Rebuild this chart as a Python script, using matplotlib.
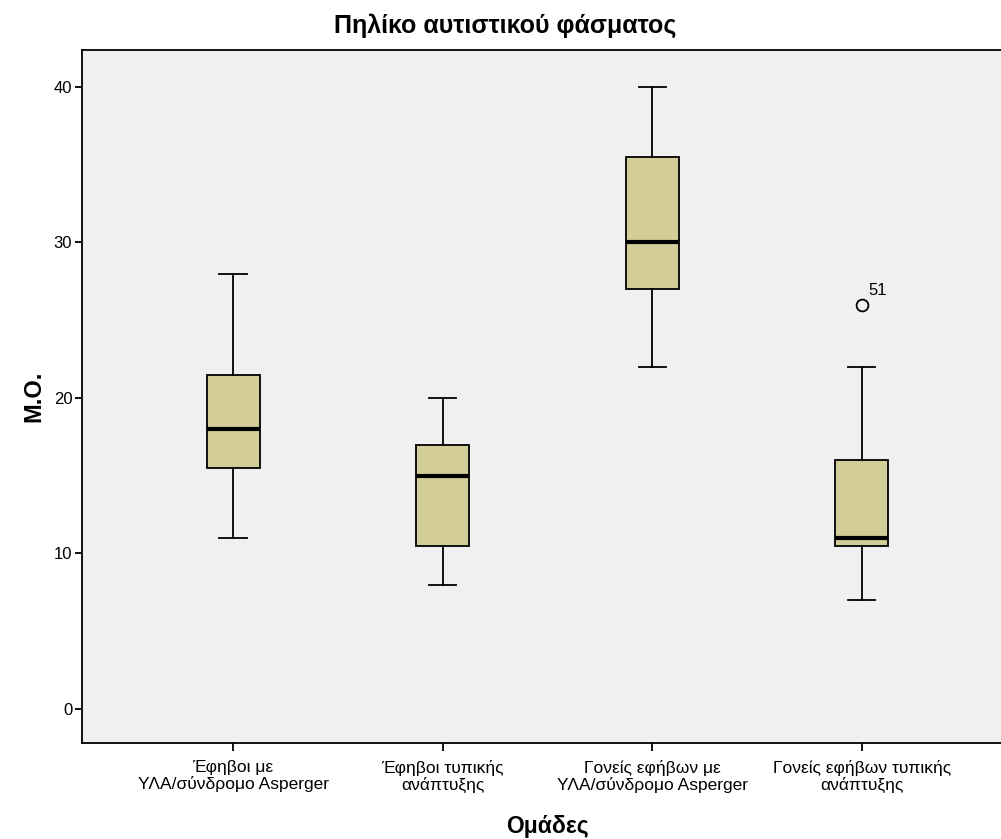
import numpy as np
import matplotlib.pyplot as plt

plt.rcParams['font.family'] = ['Liberation Sans', 'DejaVu Sans']

groups = ['Έφηβοι με\nΥΛΑ/σύνδρομο Asperger',
          'Έφηβοι τυπικής\nανάπτυξης',
          'Γονείς εφήβων με\nΥΛΑ/σύνδρομο Asperger',
          'Γονείς εφήβων τυπικής\nανάπτυξης']
whislo = [11, 8, 22, 7]
q1 = [15.5, 10.5, 27, 10.5]
med = [18, 15, 30, 11]
q3 = [21.5, 17, 35.5, 16]
whishi = [28, 20, 40, 22]
fliers = [[], [], [], [26]]
flier_ids = [[], [], [], ['51']]

stats = []
for i in range(len(groups)):
    stats.append(dict(whislo=whislo[i], q1=q1[i], med=med[i], q3=q3[i],
                      whishi=whishi[i], fliers=fliers[i]))

fig = plt.figure(figsize=(10.01, 8.39), dpi=100)
ax = fig.add_axes([0.0819, 0.1144, 0.93, 0.826])
ax.set_facecolor('#f0f0f0')

pos = np.arange(1, len(groups) + 1)
ax.bxp(stats, positions=pos, widths=0.253, capwidths=0.13, patch_artist=True,
       boxprops=dict(facecolor='#d3ce97', edgecolor='black', linewidth=1.3),
       medianprops=dict(color='black', linewidth=3),
       whiskerprops=dict(color='black', linewidth=1.3),
       capprops=dict(color='black', linewidth=1.3),
       flierprops=dict(marker='o', markerfacecolor='none', markeredgecolor='black',
                       markersize=8.5, markeredgewidth=1.3))

for i in range(len(groups)):
    for v, lab in zip(fliers[i], flier_ids[i]):
        ax.annotate(lab, (pos[i], v), xytext=(5, 5), textcoords='offset points',
                    fontsize=12, ha='left', va='bottom')

ax.set_xlim(0.279, 4.721)
ax.set_ylim(-2.19, 42.38)
ax.set_yticks([0, 10, 20, 30, 40])
ax.set_xticks(pos)
ax.set_xticklabels(groups, fontsize=12.5, linespacing=1.1)
ax.tick_params(axis='y', labelsize=12, length=5, width=1.3, pad=2)
ax.tick_params(axis='x', length=6, width=1.3, pad=6)
for s in ax.spines.values():
    s.set_linewidth(1.3)

fig.text(0.505, 1 - 26 / 839, 'Πηλίκο αυτιστικού φάσματος', fontsize=18,
         fontweight='bold', ha='center', va='center')
ax.set_ylabel('Μ.Ο.', fontsize=17, fontweight='bold', labelpad=6)
ax.set_xlabel('Ομάδες', fontsize=16.5, fontweight='bold', labelpad=16)

fig.savefig('out.png', dpi=100)
